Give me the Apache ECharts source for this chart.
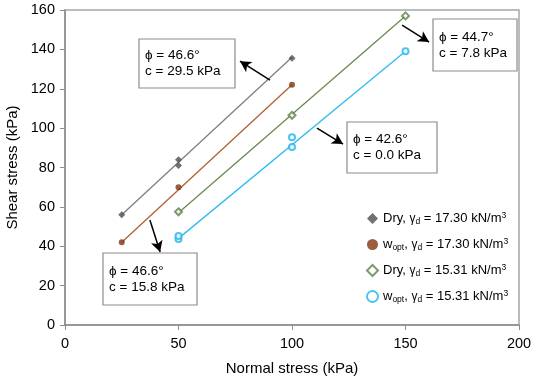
<!DOCTYPE html>
<html>
<head>
<meta charset="utf-8">
<script src="https://cdn.jsdelivr.net/npm/echarts@6/dist/echarts.min.js"></script>
<style>
  html, body { margin: 0; padding: 0; background: #fff; }
  #chart { width: 536px; height: 377px; }
</style>
</head>
<body>
<div id="chart"></div>
<script>
// measured points (normal stress, shear stress) in kPa
var dry1730 = [[25, 56], [50, 81], [50, 84], [100, 135.5]];
var wopt1730 = [[25, 42], [50, 70], [100, 122]];
var dry1531 = [[50, 57.5], [100, 106.5], [150, 157]];
var wopt1531 = [[50, 43.7], [50, 45.2], [100, 90.4], [100, 95.4], [150, 139]];

// fitted failure envelopes (end points)
var dry1730Fit = [[25, 56], [100, 136]];
var wopt1730Fit = [[25, 42], [100, 122]];
var dry1531Fit = [[50, 57], [150, 157]];
var wopt1531Fit = [[50, 44], [150, 139]];

var seriesNames = [
  "Dry, {g|γ}{sub|d} = 17.30 kN/m{sup|3}",
  "w{sub|opt}, {g|γ}{sub|d} = 17.30 kN/m{sup|3}",
  "Dry, {g|γ}{sub|d} = 15.31 kN/m{sup|3}",
  "w{sub|opt}, {g|γ}{sub|d} = 15.31 kN/m{sup|3}"
];
var legendKeys = ["dry1730", "wopt1730", "dry1531", "wopt1531"];

// annotation arrows: [from, to] in data coordinates
var arrows = [
  [[90.3, 124.4], [77.1, 134.0]],
  [[148.5, 152.3], [160.4, 143.7]],
  [[111, 100], [122.5, 91.9]],
  [[37.4, 53.3], [41.9, 37.1]]
];
var boxTexts = [
  ["46.6", "29.5"],
  ["44.7", "7.8"],
  ["42.6", "0.0"],
  ["46.6", "15.8"]
];

var font = "Liberation Sans, Arial, sans-serif";
var myChart = echarts.init(document.getElementById("chart"));

function fitLine(data, color) {
  return {
    type: "line",
    data: data,
    symbol: "none",
    silent: true,
    lineStyle: { color: color, width: 1.3 },
    z: 1
  };
}

// boxes with phi and c
var boxPos = [
  { x: 139, y: 39, w: 96, h: 49 },
  { x: 433, y: 19, w: 84, h: 52 },
  { x: 347, y: 122, w: 90, h: 51 },
  { x: 103, y: 253, w: 94, h: 52 }
];
var graphics = [];
boxPos.forEach(function(b, i) {
  graphics.push({
    type: "rect",
    shape: { x: b.x, y: b.y, width: b.w, height: b.h },
    style: { fill: "#fff", stroke: "#8c8c8c", lineWidth: 1.2 },
    z: 10
  });
  graphics.push({
    type: "text",
    x: b.x + 6,
    y: b.y + b.h / 2,
    style: {
      text: "ϕ = " + boxTexts[i][0] + "°\nc = " + boxTexts[i][1] + " kPa",
      font: "13.5px " + font,
      fill: "#000",
      lineHeight: 16,
      verticalAlign: "middle"
    },
    z: 11
  });
});

myChart.setOption({
  animation: false,
  backgroundColor: "#fff",
  textStyle: { fontFamily: font },
  grid: {
    left: 65, top: 10, right: 17, bottom: 52,
    outerBoundsMode: "none",
    containLabel: false,
    show: true, borderColor: "#a6a6a6", borderWidth: 1.5
  },
  legend: {
    data: legendKeys,
    orient: "vertical",
    left: 361,
    top: 206,
    itemGap: 11,
    itemWidth: 11,
    itemHeight: 11,
    textStyle: {
      fontSize: 13,
      color: "#000",
      fontFamily: font,
      rich: {
        g: { fontSize: 12, fontFamily: font },
        sub: { fontSize: 8.5, fontFamily: font, verticalAlign: "bottom", padding: [6, 0, 0, 0] },
        sup: { fontSize: 8.5, fontFamily: font, verticalAlign: "top", padding: [0, 0, 5, 0] }
      }
    },
    formatter: function(name) {
      return seriesNames[legendKeys.indexOf(name)];
    }
  },
  xAxis: {
    type: "value",
    min: 0, max: 200, interval: 50,
    name: "Normal stress (kPa)",
    nameLocation: "middle",
    nameGap: 36,
    nameTextStyle: { fontSize: 15, color: "#000", fontFamily: font },
    axisLine: { show: true, lineStyle: { color: "#8c8c8c", width: 1.5 } },
    axisTick: { show: true, inside: false, length: 5, lineStyle: { color: "#8c8c8c" } },
    axisLabel: { fontSize: 14.5, color: "#000", margin: 11, fontFamily: font },
    splitLine: { show: false }
  },
  yAxis: {
    type: "value",
    min: 0, max: 160, interval: 20,
    name: "Shear stress (kPa)",
    nameLocation: "middle",
    nameGap: 45,
    nameTextStyle: { fontSize: 15, color: "#000", fontFamily: font },
    axisLine: { show: true, lineStyle: { color: "#8c8c8c", width: 1.5 } },
    axisTick: { show: true, inside: false, length: 5, lineStyle: { color: "#8c8c8c" } },
    axisLabel: { fontSize: 14.5, color: "#000", margin: 10, fontFamily: font },
    splitLine: { show: false }
  },
  graphic: graphics,
  series: [
    fitLine(dry1730Fit, "#7f7f7f"),
    fitLine(wopt1730Fit, "#b0612e"),
    fitLine(dry1531Fit, "#6a8a50"),
    fitLine(wopt1531Fit, "#2ebcf2"),
    {
      name: "dry1730",
      type: "scatter",
      data: dry1730,
      symbol: "diamond",
      symbolSize: 7,
      itemStyle: { color: "#4d4d4d" },
      z: 3
    },
    {
      name: "wopt1730",
      type: "scatter",
      data: wopt1730,
      symbol: "circle",
      symbolSize: 6,
      itemStyle: { color: "#7f3410" },
      z: 3
    },
    {
      name: "dry1531",
      type: "scatter",
      data: dry1531,
      symbol: "emptyDiamond",
      symbolSize: 7,
      itemStyle: { color: "#5e7f46", borderWidth: 1.3 },
      z: 3
    },
    {
      name: "wopt1531",
      type: "scatter",
      data: wopt1531,
      symbol: "emptyCircle",
      symbolSize: 6,
      itemStyle: { color: "#1eb4f0", borderWidth: 1.3 },
      z: 3
    },
    {
      type: "line",
      data: [],
      silent: true,
      markLine: {
        silent: true,
        symbol: ["none", "arrow"],
        symbolSize: [9, 11],
        label: { show: false },
        lineStyle: { color: "#000", width: 1.5, type: "solid" },
        data: arrows.map(function(a) {
          return [{ coord: a[0] }, { coord: a[1] }];
        })
      },
      z: 12
    }
  ]
});
</script>
</body>
</html>
